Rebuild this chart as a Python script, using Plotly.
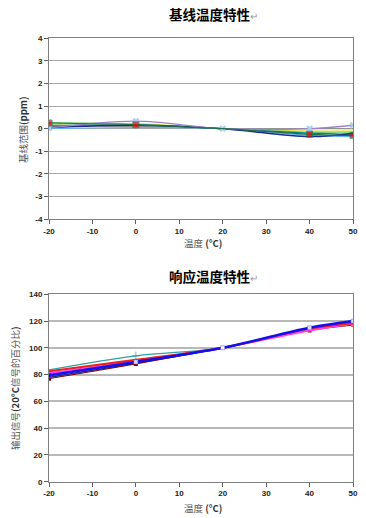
import plotly.graph_objects as go

# ---- data ----
temps = [-20, 0, 20, 40, 50]

# baseline (ppm)
base_navy = [0.05, 0.15, 0, -0.35, -0.2]
base_red = [0.25, 0.17, 0, -0.25, -0.3]
base_yellow = [0.2, 0.22, 0, -0.1, -0.1]
base_green = [0.27, 0.2, 0, -0.15, -0.15]
base_teal = [0.15, 0.15, 0, -0.2, -0.25]
base_lightblue = [0.0, 0.05, 0, -0.3, -0.35]
base_gray = [0.1, 0.1, 0, 0.0, 0.0]
base_purple = [0.02, 0.33, 0, 0.0, 0.15]

# response (% of 20°C signal)
resp_teal = [83.5, 94, 100, 114, 117.5]
resp_green = [79, 90, 100, 114, 117]
resp_cyan = [77.5, 89, 100, 114, 118]
resp_navy = [78, 88.5, 100, 114.5, 119]
resp_darkred = [77, 88, 100, 113, 117]
resp_magenta = [81, 90, 100, 113, 118]
resp_red = [82.5, 91, 100, 114.5, 118.5]
resp_blue = [79.5, 89.5, 100, 115, 120]

x_ticks = [-20, -10, 0, 10, 20, 30, 40, 50]
x_ticktext = ["-20", "-10", "0", "10", "20", "30", "40", "50"]
top_yticks = [-4, -3, -2, -1, 0, 1, 2, 3, 4]
top_yticktext = ["-4", "-3", "-2", "-1", "0", "1", "2", "3", "4"]
bot_yticks = [0, 20, 40, 60, 80, 100, 120, 140]

fig = go.Figure()

def add(xa, ya, y, color, width=1.2, marker=None):
    kw = dict(x=temps, y=y, xaxis=xa, yaxis=ya, line=dict(color=color, width=width, shape="spline"),
              showlegend=False, hoverinfo="skip")
    if marker:
        kw["mode"] = "lines+markers"
        kw["marker"] = marker
    else:
        kw["mode"] = "lines"
    fig.add_trace(go.Scatter(**kw))

# top chart
add("x", "y", base_gray, "#909090")
add("x", "y", base_yellow, "#E8E84A")
add("x", "y", base_green, "#66CC66")
add("x", "y", base_teal, "#008080")
add("x", "y", base_lightblue, "#66B2E8")
add("x", "y", base_navy, "#1A2A8C", 1.5)
add("x", "y", base_purple, "#A080D0", 1.3,
    dict(symbol="x", size=6, color="#A8D0F0", line=dict(width=0)))
add("x", "y", base_red, "#1F6F4F", 1.2,
    dict(symbol="square", size=[6, 6, 0, 6, 6], color="#FF0000"))

# bottom chart
add("x2", "y2", resp_teal, "#30A0A0", 1.3,
    dict(symbol="cross-thin-open", size=[0, 6, 0, 0, 0], color="#30A0A0", line=dict(width=1, color="#30A0A0")))
add("x2", "y2", resp_green, "#66CC66")
add("x2", "y2", resp_cyan, "#66E0E0")
add("x2", "y2", resp_navy, "#2A2A90", 1.5)
add("x2", "y2", resp_darkred, "#800000", 1.0,
    dict(symbol="square", size=4, color=["#800000", "#800000", "#FF6633", "#A00000", "#FF6633"]))
add("x2", "y2", resp_magenta, "#FF40FF", 2.0)
add("x2", "y2", resp_red, "#F02020", 2.2)
add("x2", "y2", resp_blue, "#1010F0", 2.5,
    dict(symbol="square", size=4, color=["#0000F0", "#E0E0FF", "#FFFFFF", "#E0E0FF", "#E0E0FF"],
         line=dict(width=0.5, color="#6060FF")))

W, H = 366, 518
xd = [49 / W, 353 / W]
top_dom = [1 - 219 / H, 1 - 38.3 / H]
bot_dom = [1 - 481.7 / H, 1 - 294.3 / H]

tickfont = dict(family="Liberation Sans, Arial", size=8, color="#222222", weight="bold")
axis_common = dict(showline=True, linecolor="#808080", linewidth=1, mirror=True,
                   ticks="outside", ticklen=4, tickcolor="#606060", tickfont=tickfont,
                   zeroline=False, fixedrange=True, automargin=False)

fig.update_layout(
    width=W, height=H,
    margin=dict(l=0, r=0, t=0, b=0),
    paper_bgcolor="white", plot_bgcolor="white",
    xaxis=dict(domain=xd, anchor="y", range=[-20, 50], tickvals=x_ticks, ticktext=x_ticktext,
               showgrid=False, **axis_common),
    yaxis=dict(domain=top_dom, anchor="x", range=[-4, 4], tickvals=top_yticks, ticktext=top_yticktext,
               showgrid=True, gridcolor="#A8A8A8", gridwidth=1, **axis_common),
    xaxis2=dict(domain=xd, anchor="y2", range=[-20, 50], tickvals=x_ticks, ticktext=x_ticktext,
                showgrid=False, **axis_common),
    yaxis2=dict(domain=bot_dom, anchor="x2", range=[0, 140], tickvals=bot_yticks, showgrid=True,
                gridcolor="#B8B8B8", gridwidth=2, **axis_common),
)

cjk = "Noto Sans CJK SC"
def ann(text, x, y, size, angle=0, color="#000000"):
    fig.add_annotation(text=text, x=x / W, y=1 - y / H, xref="paper", yref="paper",
                       showarrow=False, textangle=angle, xanchor="center", yanchor="middle",
                       font=dict(family=cjk, size=size, color=color))

ann('<b>基线温度特性</b><span style="color:#999999;font-size:10px">↵</span>', 213, 14, 13.5)
ann('<b>响应温度特性</b><span style="color:#999999;font-size:10px">↵</span>', 213, 276, 13.5)
ann('<span style="color:#555555">温度</span> <b>(°C)</b>', 203, 243, 9.5, color="#333333")
ann('<span style="color:#555555">温度</span> <b>(°C)</b>', 203, 508, 9.5, color="#333333")
ann('<span style="color:#555555">基线范围</span><b>(ppm)</b>', 23, 130, 9.5, angle=-90, color="#333333")
ann('<span style="color:#555555">输出信号</span><b>(20°C</b><span style="color:#555555">信号的百分比</span><b>)</b>',
    15, 388, 9.5, angle=-90, color="#333333")

fig.write_html("out.html", config={"displayModeBar": False},
               post_script="document.body.style.margin='0';document.body.style.overflow='hidden';")
